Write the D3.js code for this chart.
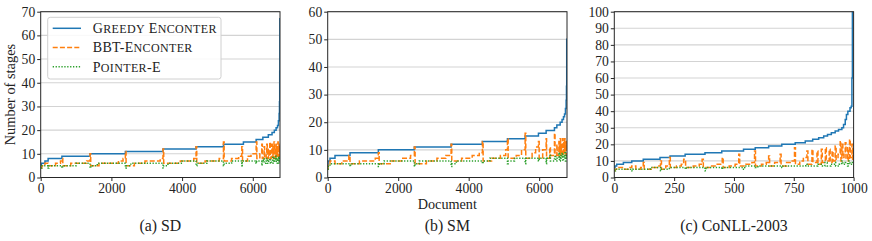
<!DOCTYPE html>
<html>
<head>
<meta charset="utf-8">
<script src="https://cdn.jsdelivr.net/npm/d3@7"></script>
<style>
  body { margin: 0; background: #fff; }
  svg { display: block; }
  text { font-family: "Liberation Serif", "DejaVu Serif", serif; fill: #222; }
</style>
</head>
<body>
<div id="chart"></div>
<script>
// series are [document index, number of stages]

// (a) SD
const sdXMax = 6770
const sdXTicks = [0, 2000, 4000, 6000]
const sdYTicks = [0, 10, 20, 30, 40, 50, 60, 70]
const sdGreedy = [[0,5],[20,6],[120,7],[210,8],[600,9],[1395,10],[2395,11],[3460,12],[4395,13],[5170,14],[5735,15],[6095,16],[6285,17],[6440,18],[6545,19],[6610,20],[6660,21],[6700,22],[6725,24],[6745,27],[6755,32],[6762,45],[6767,67],[6770,67]]
const sdBbt = [[0,4],[30,5],[120,6],[210,5],[420,6],[560,7],[600,8],[625,5],[850,6],[1300,7],[1395,10],[1415,5],[1650,6],[2200,7],[2330,8],[2395,11],[2415,5],[2650,6],[2950,7],[3380,8],[3460,12],[3480,6],[3950,7],[4330,8],[4395,13],[4415,6],[4650,7],[5050,8],[5170,15],[5190,7],[5400,8],[5600,9],[5690,13],[5710,7],[5850,9],[5950,10],[6095,15],[6115,8],[6200,10],[6255,14],[6270,8],[6300,9],[6320,13],[6335,8],[6380,10],[6395,14],[6410,8],[6440,12],[6455,9],[6480,15],[6495,8],[6520,11],[6535,14],[6550,9],[6570,13],[6585,8],[6600,15],[6615,10],[6630,12],[6645,8],[6660,14],[6675,9],[6690,13],[6700,10],[6710,15],[6720,9],[6730,14],[6740,11],[6750,13],[6760,9],[6770,14]]
const sdPointer = [[0,4],[30,5],[210,4],[230,5],[600,4],[620,5],[1000,6],[1395,4],[1420,5],[1600,6],[2395,4],[2420,5],[2550,6],[3460,4],[3480,5],[3600,6],[4000,7],[4395,5],[4420,6],[4700,7],[5170,5],[5190,6],[5400,7],[5690,5],[5700,7],[6095,6],[6110,7],[6255,5],[6265,7],[6300,8],[6320,6],[6380,7],[6400,8],[6420,6],[6450,7],[6480,8],[6500,6],[6530,7],[6560,9],[6575,6],[6600,8],[6620,7],[6650,9],[6665,6],[6690,8],[6710,7],[6730,9],[6740,6],[6755,8],[6770,7]]

// (b) SM
const smXMax = 6790
const smXTicks = [0, 2000, 4000, 6000]
const smYTicks = [0, 10, 20, 30, 40, 50, 60]
const smGreedy = [[0,4],[10,6],[65,7],[207,8],[633,9],[1437,10],[2459,11],[3501,12],[4390,13],[5100,14],[5602,15],[5980,16],[6198,17],[6434,18],[6502,19],[6596,20],[6650,21],[6690,22],[6720,23],[6746,25],[6765,28],[6775,33],[6782,50],[6790,50]]
const smBbt = [[0,3],[10,5],[65,6],[207,5],[400,6],[600,8],[633,5],[900,6],[1350,7],[1437,9],[1460,5],[1800,6],[2100,7],[2350,8],[2459,11],[2480,5],[2800,6],[3100,7],[3350,8],[3501,12],[3520,6],[3800,7],[4100,8],[4300,9],[4390,13],[4410,6],[4650,7],[4900,8],[5050,10],[5100,14],[5120,7],[5350,8],[5500,10],[5602,16],[5620,7],[5800,9],[5900,11],[5980,13],[6000,7],[6100,10],[6198,14],[6210,7],[6300,11],[6320,8],[6434,16],[6450,8],[6502,12],[6510,8],[6560,13],[6570,9],[6596,14],[6610,8],[6630,12],[6645,9],[6665,14],[6680,8],[6700,13],[6710,10],[6725,14],[6735,9],[6750,12],[6760,8],[6770,13],[6780,10],[6790,12]]
const smPointer = [[0,3],[10,4],[65,5],[633,4],[650,5],[1437,4],[1460,5],[1600,6],[2459,4],[2480,5],[2600,6],[3501,4],[3520,5],[3650,6],[4390,5],[4410,6],[4600,7],[5100,5],[5120,6],[5300,7],[5602,5],[5620,7],[5980,6],[6000,7],[6198,5],[6210,7],[6300,8],[6320,6],[6434,7],[6450,8],[6470,6],[6502,7],[6560,9],[6575,6],[6600,8],[6620,7],[6650,9],[6665,6],[6690,8],[6710,7],[6730,9],[6745,6],[6760,8],[6775,7],[6790,8]]

// (c) CoNLL-2003
const conllXMax = 1000
const conllXTicks = [0, 250, 500, 750, 1000]
const conllYTicks = [0, 10, 20, 30, 40, 50, 60, 70, 80, 90, 100]
const conllGreedy = [[0,6],[3,7],[10,8],[38,9],[73,10],[121,11],[191,12],[233,13],[296,14],[379,15],[449,16],[540,17],[589,18],[645,19],[700,20],[756,21],[798,22],[829,23],[854,24],[875,25],[891,26],[907,27],[923,28],[937,29],[951,30],[958,32],[965,35],[970,38],[976,40],[985,42],[990,43],[993,60],[995,100],[1000,100]]
const conllBbt = [[0,4],[3,5],[10,6],[38,5],[60,6],[73,7],[90,5],[110,6],[121,9],[125,5],[160,6],[180,7],[193,10],[197,5],[215,7],[230,12],[234,6],[260,7],[280,8],[290,11],[298,6],[330,7],[355,8],[367,11],[372,6],[400,7],[430,8],[451,12],[455,6],[480,7],[505,8],[520,14],[524,7],[550,8],[575,9],[586,16],[590,7],[615,8],[635,9],[645,13],[649,7],[670,9],[693,14],[697,7],[720,9],[740,10],[753,18],[757,8],[775,10],[790,12],[805,16],[809,8],[826,17],[830,9],[847,16],[851,8],[865,17],[869,9],[882,18],[886,10],[898,17],[902,9],[910,16],[914,10],[923,19],[927,11],[935,14],[944,22],[947,10],[951,20],[955,12],[960,15],[965,21],[968,11],[975,18],[978,10],[983,23],[986,12],[993,20],[996,11],[1000,18]]
const conllPointer = [[0,4],[5,5],[73,4],[77,5],[150,6],[193,4],[197,5],[230,6],[296,5],[300,6],[379,4],[383,6],[449,5],[453,6],[540,5],[545,7],[589,6],[600,7],[700,6],[705,7],[800,8],[805,7],[850,8],[870,7],[880,9],[890,7],[905,8],[920,9],[925,7],[940,8],[950,10],[955,8],[965,9],[975,7],[980,10],[985,8],[995,9],[1000,8]]

const seriesNames = ["Greedy Enconter", "BBT-Enconter", "Pointer-E"]
const seriesColors = ["#1f77b4", "#ff7f0e", "#2ca02c"]
const seriesDash = [null, "5,2.2", "1.3,1.6"]

const width = 872, height = 241
const plotTop = 11.7, plotBottom = 177.5, plotW = 239.3

const panels = [
  { left: 40.7, xMax: sdXMax, xTicks: sdXTicks, yTicks: sdYTicks, data: [sdGreedy, sdBbt, sdPointer], caption: "(a) SD" },
  { left: 327.7, xMax: smXMax, xTicks: smXTicks, yTicks: smYTicks, data: [smGreedy, smBbt, smPointer], caption: "(b) SM" },
  { left: 614.3, xMax: conllXMax, xTicks: conllXTicks, yTicks: conllYTicks, data: [conllGreedy, conllBbt, conllPointer], caption: "(c) CoNLL-2003" },
]

const svg = d3.select("#chart").append("svg")
  .attr("width", width)
  .attr("height", height)

panels.forEach((p, i) => {
  const x = d3.scaleLinear().domain([0, p.xMax]).range([p.left, p.left + plotW])
  const yMax = p.yTicks[p.yTicks.length - 1]
  const y = d3.scaleLinear().domain([0, yMax]).range([plotBottom, plotTop])
  const g = svg.append("g")

  g.append("clipPath").attr("id", "clip" + i)
    .append("rect")
    .attr("x", p.left).attr("y", plotTop)
    .attr("width", plotW).attr("height", plotBottom - plotTop)

  // grid
  g.selectAll("line.grid")
    .data(p.yTicks)
    .enter().append("line")
      .attr("class", "grid")
      .attr("x1", p.left).attr("x2", p.left + plotW)
      .attr("y1", d => y(d)).attr("y2", d => y(d))
      .attr("stroke", "#d3d3d3")
      .attr("stroke-width", 1.1)

  const line = d3.line()
    .x(d => x(d[0]))
    .y(d => y(d[1]))
    .curve(d3.curveStepAfter)

  p.data.forEach((s, k) => {
    g.append("path")
      .attr("d", line(s))
      .attr("fill", "none")
      .attr("stroke", seriesColors[k])
      .attr("stroke-width", 1.5)
      .attr("stroke-dasharray", seriesDash[k])
      .attr("clip-path", `url(#clip${i})`)
  })

  // frame
  g.append("rect")
    .attr("x", p.left).attr("y", plotTop)
    .attr("width", plotW).attr("height", plotBottom - plotTop)
    .attr("fill", "none")
    .attr("stroke", "#262626")
    .attr("stroke-width", 1)

  const xAxis = g.append("g")
    .attr("transform", `translate(0,${plotBottom})`)
    .call(d3.axisBottom(x).tickValues(p.xTicks).tickFormat(d3.format("d")).tickSize(3.5).tickPadding(2.5))
  const yAxis = g.append("g")
    .attr("transform", `translate(${p.left},0)`)
    .call(d3.axisLeft(y).tickValues(p.yTicks).tickFormat(d3.format("d")).tickSize(3.5).tickPadding(2))

  ;[xAxis, yAxis].forEach(a => {
    a.select(".domain").remove()
    a.selectAll(".tick line").attr("stroke", "#262626")
    a.selectAll(".tick text")
      .attr("fill", "#222")
      .style("font-family", '"Liberation Serif", "DejaVu Serif", serif')
      .style("font-size", "13.6px")
  })

  g.append("text")
    .attr("x", p.left + plotW / 2)
    .attr("y", 231)
    .attr("text-anchor", "middle")
    .style("font-size", "15.8px")
    .text(p.caption)
})

// axis titles
svg.append("text")
  .attr("transform", `translate(14.5,${(plotTop + plotBottom) / 2}) rotate(-90)`)
  .attr("text-anchor", "middle")
  .style("font-size", "14.4px")
  .text("Number of stages")

svg.append("text")
  .attr("x", panels[1].left + plotW / 2)
  .attr("y", 208.5)
  .attr("text-anchor", "middle")
  .style("font-size", "14.2px")
  .text("Document")

// legend on the first panel
const legend = svg.append("g").attr("transform", "translate(47.7,17.3)")
legend.append("rect")
  .attr("width", 173.3).attr("height", 61.7)
  .attr("rx", 2.5)
  .attr("fill", "#fff").attr("fill-opacity", 0.85)
  .attr("stroke", "#d0d0d0")

// small caps by hand: capitals at full size, lower case as smaller capitals
function smallCaps(textSel, name) {
  const runs = []
  for (const ch of name) {
    const small = ch !== ch.toUpperCase()
    const last = runs[runs.length - 1]
    if (last && last.small === small) last.s += ch
    else runs.push({ small, s: ch })
  }
  textSel.selectAll("tspan")
    .data(runs)
    .enter().append("tspan")
      .style("font-size", d => d.small ? "12px" : "14px")
      .text(d => d.s.toUpperCase())
}

seriesNames.forEach((name, k) => {
  const ly = 11 + k * 19.2
  legend.append("line")
    .attr("x1", 5).attr("x2", 33.3)
    .attr("y1", ly).attr("y2", ly)
    .attr("stroke", seriesColors[k])
    .attr("stroke-width", 1.5)
    .attr("stroke-dasharray", seriesDash[k])
  const t = legend.append("text")
    .attr("x", 45)
    .attr("y", ly + 5)
    .style("letter-spacing", "0.35px")
  smallCaps(t, name)
})
</script>
</body>
</html>
